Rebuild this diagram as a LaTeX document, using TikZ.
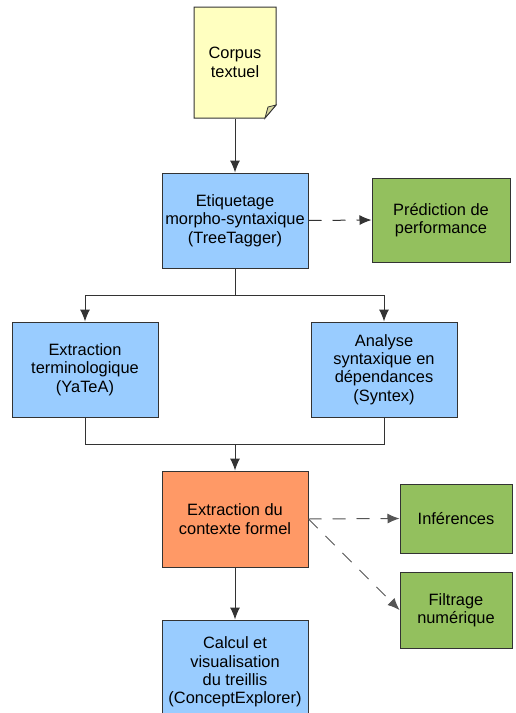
\documentclass[tikz,border=0pt]{standalone}
\usepackage{fontspec}
\setmainfont{Liberation Sans}
\usetikzlibrary{arrows.meta}
\definecolor{cyellow}{HTML}{FFFFC0}
\definecolor{cfold}{HTML}{D8D8A0}
\definecolor{cblue}{HTML}{99CCFF}
\definecolor{cgreen}{HTML}{93C05E}
\definecolor{corange}{HTML}{FF9966}
\definecolor{cline}{HTML}{333333}
\definecolor{cdash}{HTML}{555555}
\tikzset{
  box/.style={draw=cline, line width=1pt, align=center, inner sep=0pt, text=black,
    font=\fontsize{16.4}{18.4}\selectfont},
  bluebox/.style={box, fill=cblue, minimum width=146pt, minimum height=95pt},
  greenbox/.style={box, fill=cgreen, minimum width=138pt},
  wire/.style={draw=cline, line width=1pt},
  conn/.style={wire, -{Latex[length=12pt,width=10pt]}},
  dconn/.style={conn, dash pattern=on 13pt off 11pt}
}
\begin{document}
\begin{tikzpicture}[x=1pt,y=-1pt]
\clip (0,0) rectangle (515,713);
\fill[white] (0,0) rectangle (515,713);
% corpus document shape
\filldraw[fill=cyellow, draw=cline, line width=1pt]
  (194,7) -- (276,7) -- (276,105) -- (265,118) -- (194,118) -- cycle;
\filldraw[fill=cfold, draw=cline, line width=0.8pt]
  (265,118) -- (268,107) -- (276,105) -- cycle;
\node[box, draw=none, minimum width=82pt, minimum height=111pt] (corpus) at (235,62.5) {Corpus\\textuel};

\node[bluebox] (etiq) at (235,220.5) {Etiquetage\\morpho-syntaxique\\(TreeTagger)};
\node[greenbox, minimum height=84pt] (pred) at (441,220) {Prédiction de\\performance};
\node[bluebox] (term) at (85,369.5) {Extraction\\terminologique\\(YaTeA)};
\node[bluebox] (synt) at (384,369.5) {Analyse\\syntaxique en\\dépendances\\(Syntex)};
\node[bluebox, fill=corange, minimum height=96pt] (ctx) at (235,519) {Extraction du\\contexte formel};
\node[greenbox, minimum width=112pt, minimum height=69pt] (inf) at (456,518.5) {Inférences};
\node[greenbox, minimum width=112pt, minimum height=76pt] (filt) at (456,610) {Filtrage\\numérique};
\node[bluebox, minimum height=104pt] (calc) at (235,672) {Calcul et\\visualisation\\du treillis\\(ConceptExplorer)};

\coordinate (split) at (235,295);
\coordinate (merge) at (235,444);

\draw[conn] (corpus.south) -- (etiq.north);
\draw[wire] (etiq.south) -- (split);
\draw[conn] (split) -| (term.north);
\draw[conn] (split) -| (synt.north);
\draw[wire] (term.south) |- (merge);
\draw[wire] (synt.south) |- (merge);
\draw[conn] (merge) -- (ctx.north);
\draw[conn] (ctx.south) -- (calc.north);
\draw[dconn] (etiq.east) -- (pred.west);
\draw[dconn, draw=cdash] (ctx.east) -- (inf.west);
\draw[dconn, draw=cdash] (ctx.east) -- (filt.west);
\end{tikzpicture}
\end{document}
